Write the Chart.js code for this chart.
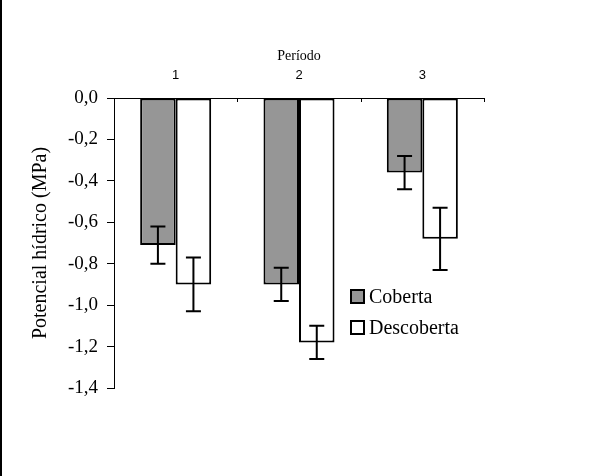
<!DOCTYPE html>
<html>
<head>
<meta charset="utf-8">
<script src="https://cdn.jsdelivr.net/npm/chart.js@4"></script>
<style>
  html, body { margin: 0; padding: 0; background: #fff; }
  #wrap { width: 613px; height: 476px; position: relative; }
</style>
</head>
<body>
<div id="wrap"><canvas id="c" width="613" height="476"></canvas></div>
<script>
const categories = ['1', '2', '3'];
const seriesNames = ['Coberta', 'Descoberta'];
const coberta = [-0.71, -0.90, -0.36];
const descoberta = [-0.90, -1.18, -0.68];
const cobertaErr = [0.09, 0.08, 0.08];
const descobertaErr = [0.13, 0.08, 0.15];
const yTicks = [0, -0.2, -0.4, -0.6, -0.8, -1.0, -1.2, -1.4];
const xTitle = 'Período';
const yTitle = 'Potencial hídrico (MPa)';

const fmt = v => v.toFixed(1).replace('.', ',').replace('-0,0', '0,0');

const errorBars = {
  id: 'errorBars',
  afterDatasetsDraw(chart) {
    const ctx = chart.ctx;
    const y = chart.scales.y;
    const errs = [cobertaErr, descobertaErr];
    ctx.save();
    ctx.strokeStyle = '#000';
    ctx.lineWidth = 2;
    chart.data.datasets.forEach((ds, di) => {
      const meta = chart.getDatasetMeta(di);
      meta.data.forEach((bar, i) => {
        const v = ds.data[i];
        const e = errs[di][i];
        const x = bar.x;
        const y1 = y.getPixelForValue(v + e);
        const y2 = y.getPixelForValue(v - e);
        ctx.beginPath();
        ctx.moveTo(x, y1); ctx.lineTo(x, y2);
        ctx.moveTo(x - 7.5, y1); ctx.lineTo(x + 7.5, y1);
        ctx.moveTo(x - 7.5, y2); ctx.lineTo(x + 7.5, y2);
        ctx.stroke();
      });
    });
    ctx.restore();
  }
};

const extras = {
  id: 'extras',
  afterDraw(chart) {
    const ctx = chart.ctx;
    const a = chart.chartArea;
    const xs = chart.scales.x;
    ctx.save();
    // left frame line
    ctx.fillStyle = '#000';
    ctx.fillRect(0, 0, 2, chart.height);
    // x-axis tick marks (pointing down)
    ctx.strokeStyle = '#000';
    ctx.lineWidth = 1;
    const n = categories.length;
    const step = (xs.right - xs.left) / n;
    for (let i = 1; i <= n; i++) {
      const px = Math.round(xs.left + i * step) + 0.5;
      ctx.beginPath();
      ctx.moveTo(px, a.top);
      ctx.lineTo(px, a.top + 4);
      ctx.stroke();
    }
    // legend
    const lx = 351, ly = [297, 328];
    const fills = ['#969696', '#ffffff'];
    ctx.font = '20px "Liberation Serif", "Times New Roman", serif';
    ctx.textBaseline = 'middle';
    ctx.textAlign = 'left';
    seriesNames.forEach((name, i) => {
      ctx.fillStyle = fills[i];
      ctx.fillRect(lx, ly[i] - 7, 13, 13);
      ctx.lineWidth = 2;
      ctx.strokeStyle = '#000';
      ctx.strokeRect(lx, ly[i] - 7, 13, 13);
      ctx.fillStyle = '#000';
      ctx.fillText(name, lx + 18, ly[i] + 1);
    });
    ctx.restore();
  }
};

new Chart(document.getElementById('c'), {
  type: 'bar',
  data: {
    labels: categories,
    datasets: [
      { label: seriesNames[0], data: coberta, backgroundColor: '#969696', borderColor: '#000', borderWidth: 2, borderSkipped: false },
      { label: seriesNames[1], data: descoberta, backgroundColor: '#ffffff', borderColor: '#000', borderWidth: 2, borderSkipped: false }
    ]
  },
  options: {
    responsive: false,
    animation: false,
    devicePixelRatio: 1,
    layout: { padding: { left: 0, top: 45, right: 129, bottom: 88 } },
    datasets: { bar: { categoryPercentage: 0.576, barPercentage: 1.0 } },
    plugins: { legend: { display: false }, tooltip: { enabled: false } },
    scales: {
      x: {
        position: 'top',
        grid: { display: false, drawOnChartArea: false },
        border: { display: true, color: '#000', width: 1 },
        ticks: { color: '#000', font: { family: '"Liberation Sans", Arial, sans-serif', size: 13 }, padding: 7, maxRotation: 0 },
        title: { display: true, text: xTitle, color: '#000', font: { family: '"Liberation Serif", "Times New Roman", serif', size: 14 }, padding: { top: 3, bottom: 0 } },
        afterFit(s) { s.height = 53; }
      },
      y: {
        min: -1.4,
        max: 0,
        afterBuildTicks(s) { s.ticks = yTicks.map(v => ({ value: v })); },
        grid: { drawOnChartArea: false, tickLength: 7, color: '#000', tickColor: '#000' },
        border: { display: true, color: '#000', width: 1 },
        ticks: { color: '#000', font: { family: '"Liberation Serif", "Times New Roman", serif', size: 19 }, padding: 9, callback: v => fmt(v) },
        title: { display: true, text: yTitle, color: '#000', font: { family: '"Liberation Serif", "Times New Roman", serif', size: 20 }, padding: { top: 29, bottom: 0 } },
        afterFit(s) { s.width = 114; }
      }
    }
  },
  plugins: [errorBars, extras]
});
</script>
</body>
</html>
